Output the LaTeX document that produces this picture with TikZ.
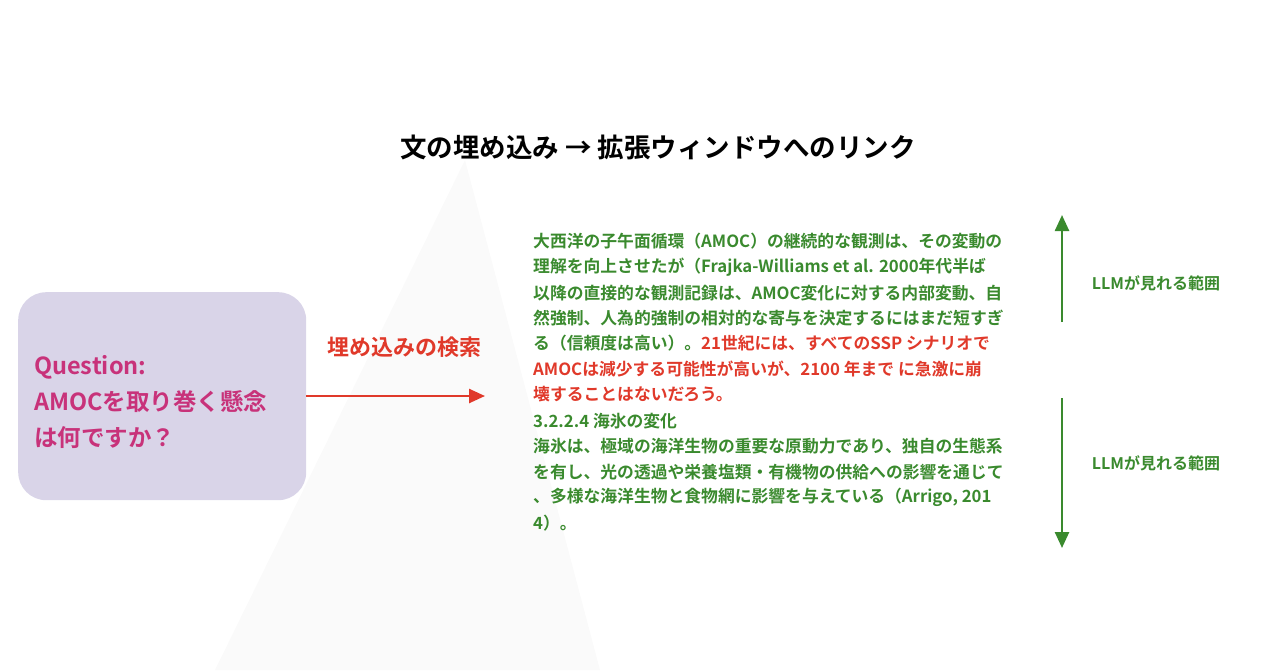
\documentclass[tikz,border=0pt]{standalone}
\usepackage{fontspec}
\setmainfont{Noto Sans CJK JP Bold}
\usetikzlibrary{arrows.meta}
\definecolor{tg}{HTML}{3A8A2E}
\definecolor{tr}{HTML}{E0392A}
\definecolor{qm}{HTML}{C8327A}
\definecolor{qb}{HTML}{D9D4E8}
\tikzset{ln/.style={anchor=west,inner sep=0pt,font=\fontsize{16.8}{18}\selectfont,text=tg},
lab/.style={font=\fontsize{16}{18}\selectfont,text=tg,inner sep=0pt}}
\begin{document}
\begin{tikzpicture}[x=1pt,y=-1pt]
\useasboundingbox (0,0) rectangle (1280,670);
\fill[black!2] (465,160) -- (600,670) -- (215,670) -- cycle;
\node[draw=none,fill=qb,rounded corners=28pt,minimum width=288pt,minimum height=208pt,anchor=north west] (q) at (18,292) {};
\node[anchor=west,align=left,text=qm,font=\fontsize{23.5}{36}\selectfont,inner sep=0pt] (qt) at (34,402) {Question:\\AMOCを取り巻く懸念\\は何ですか？};
\node[font=\fontsize{26.5}{28}\selectfont,inner sep=0pt] (title) at (658,147) {文の埋め込み → 拡張ウィンドウへのリンク};
\coordinate (ae) at (485,396);
\draw[tr,line width=2.5pt,-{Triangle[length=16pt,width=14pt]}] (q.east |- ae) -- (ae);
\node[text=tr,font=\fontsize{22}{24}\selectfont,inner sep=0pt] (sl) at (404,347) {埋め込みの検索};
\node[ln] (l1) at (533,241) {大西洋の子午面循環（AMOC）の継続的な観測は、その変動の};
\node[ln] (l2) at (533,267) {理解を向上させたが（Frajka-Williams et al. 2000年代半ば};
\node[ln] (l3) at (533,293) {以降の直接的な観測記録は、AMOC変化に対する内部変動、自};
\node[ln] (l4) at (533,318) {然強制、人為的強制の相対的な寄与を決定するにはまだ短すぎ};
\node[ln] (l5) at (533,343) {る（信頼度は高い）。\textcolor{tr}{21世紀には、すべてのSSP シナリオで}};
\node[ln,text=tr] (l6) at (533,369) {AMOCは減少する可能性が高いが、2100 年まで に急激に崩};
\node[ln,text=tr] (l7) at (533,394) {壊することはないだろう。};
\node[ln] (l8) at (533,421) {3.2.2.4 海氷の変化};
\node[ln] (l9) at (533,446) {海氷は、極域の海洋生物の重要な原動力であり、独自の生態系};
\node[ln] (l10) at (533,472) {を有し、光の透過や栄養塩類・有機物の供給への影響を通じて};
\node[ln] (l11) at (533,497) {、多様な海洋生物と食物網に影響を与えている（Arrigo, 201};
\node[ln] (l12) at (533,523) {4）。};
\coordinate (a1s) at (1062,322); \coordinate (a1e) at (1062,215);
\coordinate (a2s) at (1062,398); \coordinate (a2e) at (1062,548);
\draw[tg,line width=2.5pt,-{Triangle[length=16pt,width=14pt]}] (a1s) -- (a1e);
\draw[tg,line width=2.5pt,-{Triangle[length=16pt,width=14pt]}] (a2s) -- (a2e);
\node[lab] (r1) at (1156,283) {LLMが見れる範囲};
\node[lab] (r2) at (1156,463) {LLMが見れる範囲};
\end{tikzpicture}
\end{document}
